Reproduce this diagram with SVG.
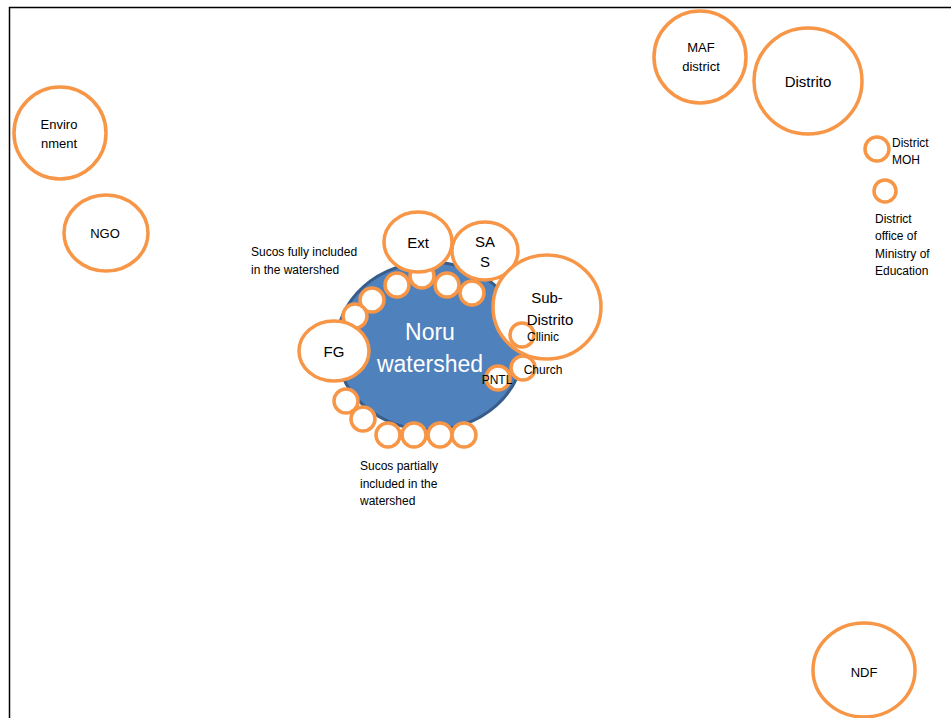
<svg xmlns="http://www.w3.org/2000/svg" width="951" height="718" viewBox="0 0 951 718">
<style>
.c{fill:#fff;stroke:#F79646;stroke-width:3.5}
.t{font-family:"Liberation Sans",Arial,sans-serif;fill:#000;text-anchor:middle}
.s{font-size:12px}
.m{font-size:13px}
.l{font-size:15px}
.lt{font-family:"Liberation Sans",Arial,sans-serif;fill:#000;font-size:12px}
</style>
<rect x="0" y="0" width="951" height="718" fill="#fff"/>
<path d="M9.5 718 V7.5 H951" fill="none" stroke="#000" stroke-width="1.5"/>
<g id="connectors"/>
<g id="watershed">
<ellipse cx="430" cy="346" rx="94" ry="84" fill="#4F81BD" stroke="#385D8A" stroke-width="3"/>
<text class="t" x="430" y="340" font-size="23" fill="#fff" style="fill:#fff">Noru</text>
<text class="t" x="430" y="372" font-size="23" style="fill:#fff">watershed</text>
</g>
<g id="sucos-full">
<circle class="c" cx="422" cy="276" r="12"/>
<circle class="c" cx="397" cy="285" r="12"/>
<circle class="c" cx="372" cy="300" r="12"/>
<circle class="c" cx="355" cy="316" r="12"/>
<circle class="c" cx="447" cy="285" r="12"/>
<circle class="c" cx="472" cy="293" r="12"/>
</g>
<g id="sucos-partial">
<circle class="c" cx="346" cy="401" r="12"/>
<circle class="c" cx="363" cy="419" r="12"/>
<circle class="c" cx="388" cy="435" r="12"/>
<circle class="c" cx="414" cy="435" r="12"/>
<circle class="c" cx="440" cy="435" r="12"/>
<circle class="c" cx="464" cy="435" r="12"/>
</g>
<g id="ext"><ellipse class="c" cx="418" cy="242" rx="34" ry="30"/><text class="t l" x="418" y="248">Ext</text></g>
<g id="sas"><ellipse class="c" cx="485" cy="251" rx="33" ry="29"/><text class="t l" x="485" y="247">SA</text><text class="t l" x="485" y="267">S</text></g>
<g id="subdistrito"><ellipse class="c" cx="547" cy="307" rx="54" ry="52"/></g>
<g id="fg"><ellipse class="c" cx="334" cy="351" rx="35" ry="30"/><text class="t l" x="334" y="357">FG</text></g>
<g id="clinic"><circle class="c" cx="522" cy="335" r="12"/></g>
<g id="church"><circle class="c" cx="523" cy="368" r="12"/><text class="t s" x="543" y="374">Church</text></g>
<g id="pntl"><circle class="c" cx="498" cy="378" r="12"/><text class="t s" x="497" y="384">PNTL</text></g>
<g id="subdistrito-label"><text class="t l" x="547" y="303">Sub-</text><text class="t l" x="550" y="325">Distrito</text><text class="t s" x="543" y="341">Cllinic</text></g>
<g id="environment"><circle class="c" cx="60" cy="133" r="46"/><text class="t m" x="59" y="129">Enviro</text><text class="t m" x="59" y="148">nment</text></g>
<g id="ngo"><ellipse class="c" cx="106" cy="233" rx="42" ry="38"/><text class="t m" x="105" y="238">NGO</text></g>
<g id="maf"><circle class="c" cx="700" cy="57" r="46"/><text class="t m" x="701" y="52">MAF</text><text class="t m" x="701" y="71">district</text></g>
<g id="distrito"><ellipse class="c" cx="808" cy="81" rx="54" ry="53"/><text class="t l" x="808" y="87">Distrito</text></g>
<g id="moh"><circle class="c" cx="877" cy="149" r="12"/><text class="lt" x="892" y="147">District</text><text class="lt" x="892" y="164">MOH</text></g>
<g id="moe"><circle class="c" cx="885" cy="191" r="11"/><text class="lt" x="875" y="223">District</text><text class="lt" x="875" y="240">office of</text><text class="lt" x="875" y="258">Ministry of</text><text class="lt" x="875" y="275">Education</text></g>
<g id="ndf"><ellipse class="c" cx="864" cy="670" rx="51" ry="47"/><text class="t m" x="864" y="677">NDF</text></g>
<g id="labels">
<text class="lt" x="251" y="256">Sucos fully included</text>
<text class="lt" x="251" y="274">in the watershed</text>
<text class="lt" x="360" y="470">Sucos partially</text>
<text class="lt" x="360" y="488">included in the</text>
<text class="lt" x="360" y="505">watershed</text>
</g>
</svg>
